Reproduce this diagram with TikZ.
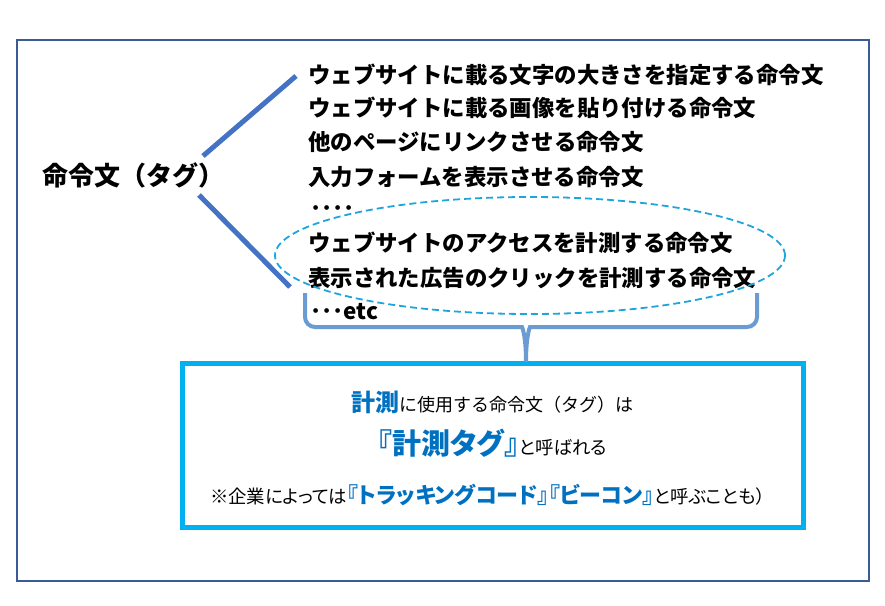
\documentclass[tikz,border=0pt]{standalone}
\usepackage{fontspec}
\setmainfont{Noto Sans CJK JP}
\newfontfamily\propfont{Noto Sans CJK JP}[CharacterWidth=AlternateProportional]
\usetikzlibrary{shapes.geometric,positioning}
\definecolor{framecol}{HTML}{3A5A98}
\definecolor{branchcol}{HTML}{4472C4}
\definecolor{bracecol}{HTML}{6A9BD2}
\definecolor{skyline}{HTML}{00B0F0}
\definecolor{ringcol}{HTML}{1FA5DE}
\definecolor{tagblue}{HTML}{0070C0}
\newcommand{\blueword}[2]{{\fontsize{#1}{#1}\selectfont\bfseries\color{tagblue}#2}}
\tikzset{
  itemline/.style={anchor=west,inner sep=0pt,font=\fontsize{22.4}{26}\selectfont\bfseries},
  leadline/.style={anchor=west,inner sep=0pt,font=\fontsize{26}{30}\selectfont\bfseries},
  branch/.style={draw=branchcol,line width=5pt},
  bracket/.style={draw=bracecol,line width=4pt,rounded corners=10pt},
  measring/.style={draw=ringcol,ellipse,line width=1.8pt,dash pattern=on 7pt off 4pt,
    minimum width=510pt,minimum height=117pt,inner sep=0pt},
  notebox/.style={draw=skyline,line width=5pt,minimum width=621pt,minimum height=164pt},
  noteline/.style={inner sep=0pt,font=\fontsize{18.4}{20}\selectfont\propfont},
}
\begin{document}
\begin{tikzpicture}[x=1pt,y=-1pt]
\useasboundingbox (0,0) rectangle (885,605);
\draw[framecol,line width=2pt] (17,40) rectangle (869,581);

\node[leadline] (lead) at (42,175) {命令文（タグ）};

\node[itemline] (item1) at (308,75) {ウェブサイトに載る文字の大きさを指定する命令文};
\node[itemline] (item2) at (308,108) {ウェブサイトに載る画像を貼り付ける命令文};
\node[itemline] (item3) at (308,142) {他のページにリンクさせる命令文};
\node[itemline] (item4) at (308,177) {入力フォームを表示させる命令文};
\node[itemline] (item5) at (310,211) {････};
\node[itemline] (item6) at (308,243) {ウェブサイトのアクセスを計測する命令文};
\node[itemline] (item7) at (308,278) {表示された広告のクリックを計測する命令文};
\node[itemline] (item8) at (310,312) {･･･etc};

\coordinate (upfoot) at (203,156);
\coordinate (uptip) at (296,76);
\coordinate (downfoot) at (199,195);
\coordinate (downtip) at (290,287);
\draw[branch] (upfoot) -- (uptip);
\draw[branch] (downfoot) -- (downtip);

\node[measring] (meas) at (530,255.5) {};

\node[notebox] (box) at (492.5,445) {};
\coordinate (stem) at (526,362);
\draw[bracket] (305,293) -- (305,327) -- (512,327) .. controls (522,327) and (526,335) .. (stem);
\draw[bracket] (757,293) -- (757,327) -- (540,327) .. controls (530,327) and (526,335) .. (stem);

\node[noteline,font=\fontsize{18}{20}\selectfont\rmfamily] (note1) at (492.5,402)
  {\blueword{24}{計測}に使用する命令文（タグ）は};
\node[noteline] (note2) at (492.5,443) {\blueword{29}{『計測タグ』}と呼ばれる};
\node[noteline] (note3) at (487.5,495) {※企業によっては\blueword{22}{『トラッキングコード』『ビーコン』}と呼ぶことも）};
\end{tikzpicture}
\end{document}
